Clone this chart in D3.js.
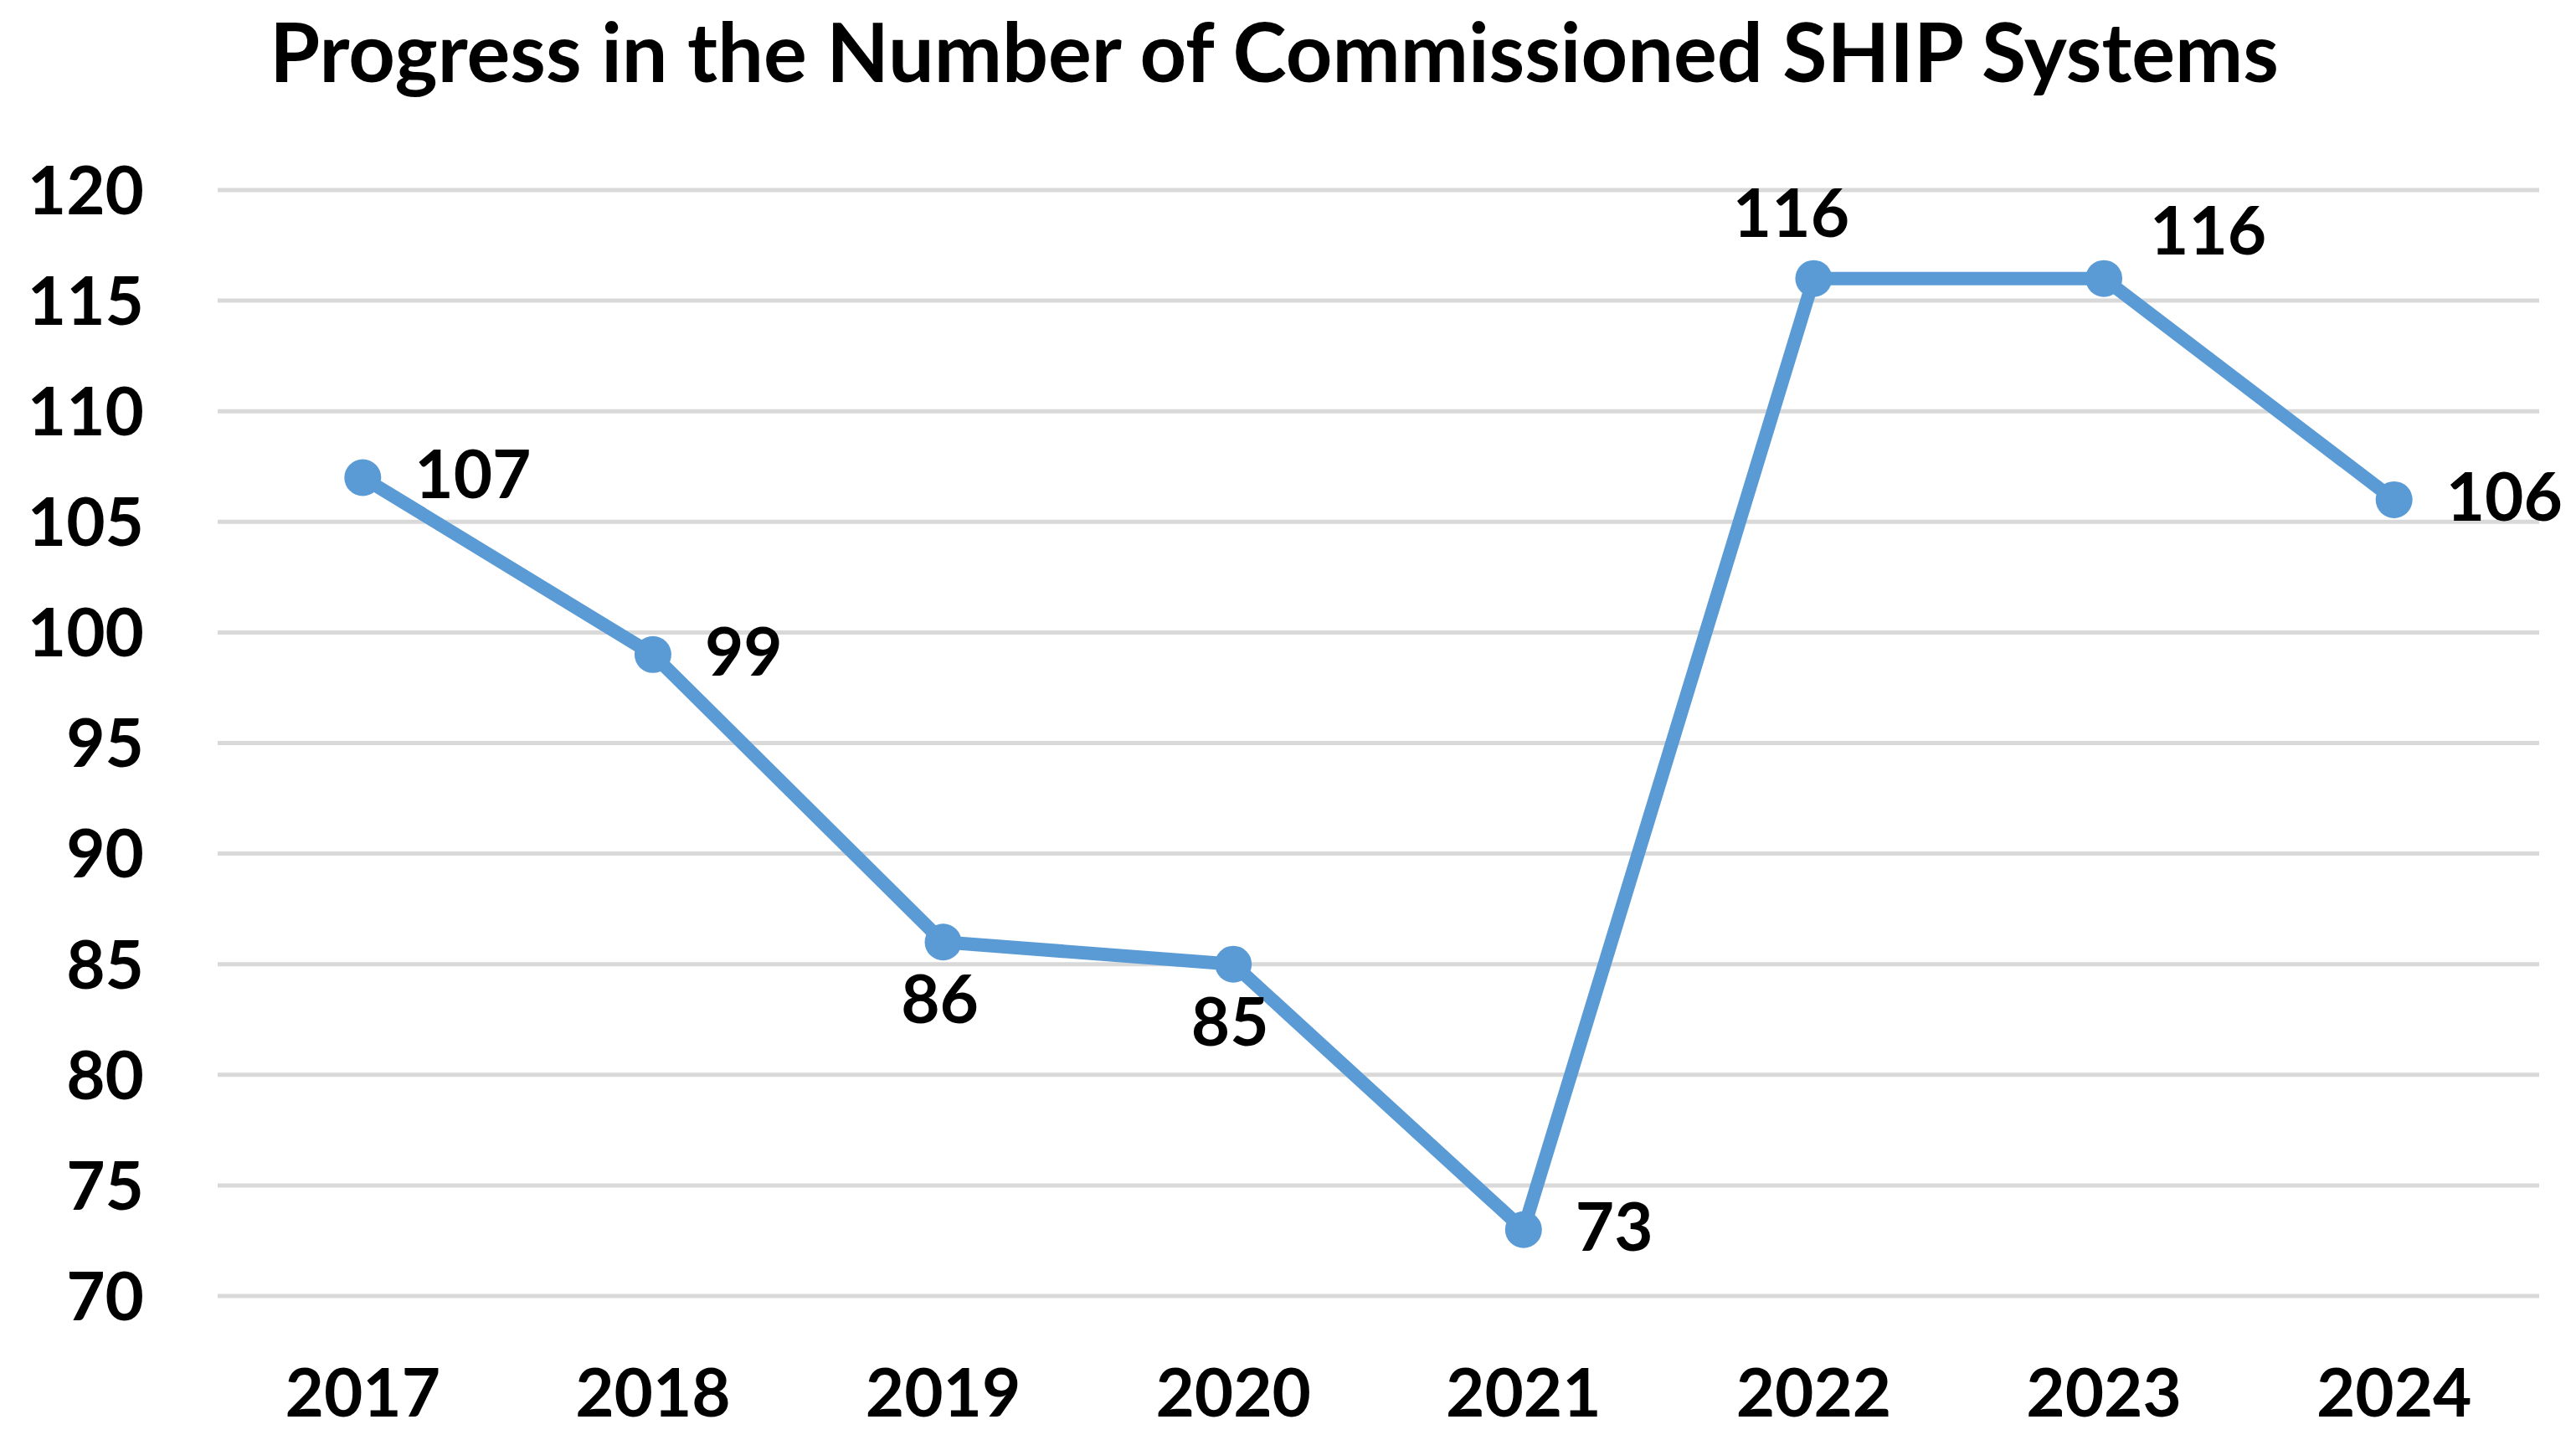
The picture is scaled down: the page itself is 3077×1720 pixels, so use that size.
<!DOCTYPE html>
<html lang="en">
<head>
<meta charset="UTF-8">
<title>Progress in the Number of Commissioned SHIP Systems</title>
<style>
    body { margin: 0; background: #fff; }
    text { font-family: Lato, "Open Sans", sans-serif; font-weight: 700; fill: #000; }
    .grid line { stroke: #d9d9d9; stroke-width: 5px; }
    .series { fill: none; stroke: #5b9bd5; stroke-width: 16px; stroke-linejoin: round; }
    .dot { fill: #5b9bd5; }
</style>
</head>
<body>
<script src="https://d3js.org/d3.v7.min.js"></script>
<script>
    // data
    const years = ['2017', '2018', '2019', '2020', '2021', '2022', '2023', '2024'];
    const systems = [107, 99, 86, 85, 73, 116, 116, 106];
    const yTicks = [70, 75, 80, 85, 90, 95, 100, 105, 110, 115, 120];
    // where Excel put each data label
    const labelSide = ['right', 'right', 'below', 'below', 'right', 'above', 'upright', 'right'];

    const W = 3077, H = 1720;
    const m = { t: 227, r: 44, b: 172, l: 260 };
    const w = W - m.l - m.r, h = H - m.t - m.b;

    const svg = d3.select('body').append('svg')
        .attr('width', W).attr('height', H);

    svg.append('text')
        .attr('x', 1522).attr('y', 98)
        .attr('text-anchor', 'middle')
        .style('font-size', '97px')
        .text('Progress in the Number of Commissioned SHIP Systems');

    const g = svg.append('g').attr('transform', `translate(${m.l},${m.t})`);

    const x = d3.scaleBand().domain(years).range([0, w]);
    const y = d3.scaleLinear().domain([70, 120]).range([h, 0]);
    const cx = d => x(d) + x.bandwidth() / 2;

    // gridlines
    g.append('g').attr('class', 'grid')
        .selectAll('line').data(yTicks).enter().append('line')
        .attr('x1', 0).attr('x2', w)
        .attr('y1', d => y(d)).attr('y2', d => y(d));

    // y axis labels
    g.selectAll('.ylab').data(yTicks).enter().append('text')
        .attr('class', 'ylab')
        .attr('x', -88).attr('y', d => y(d))
        .attr('dy', '0.36em')
        .attr('text-anchor', 'end')
        .style('font-size', '80px')
        .text(d => d);

    // x axis labels
    g.selectAll('.xlab').data(years).enter().append('text')
        .attr('class', 'xlab')
        .attr('x', d => cx(d)).attr('y', h + 144)
        .attr('text-anchor', 'middle')
        .style('font-size', '80px')
        .text(d => d);

    const pts = years.map((yr, i) => ({ yr, v: systems[i], side: labelSide[i] }));

    const line = d3.line().x(d => cx(d.yr)).y(d => y(d.v));
    g.append('path').datum(pts).attr('class', 'series').attr('d', line);

    g.selectAll('.dot').data(pts).enter().append('circle')
        .attr('class', 'dot')
        .attr('cx', d => cx(d.yr)).attr('cy', d => y(d.v))
        .attr('r', 22);

    // data labels
    const off = {
        right:  { dx: 62, dy: -4, anchor: 'start' },
        below:  { dx: -4, dy: 68, anchor: 'middle' },
        above:  { dx: -27, dy: -78, anchor: 'middle' },
        upright: { dx: 55, dy: -57, anchor: 'start' }
    };
    g.selectAll('.vlab').data(pts).enter().append('text')
        .attr('class', 'vlab')
        .attr('x', d => cx(d.yr) + off[d.side].dx)
        .attr('y', d => y(d.v) + off[d.side].dy)
        .attr('dy', '0.36em')
        .attr('text-anchor', d => off[d.side].anchor)
        .style('font-size', '80px')
        .text(d => d.v);
</script>
</body>
</html>
